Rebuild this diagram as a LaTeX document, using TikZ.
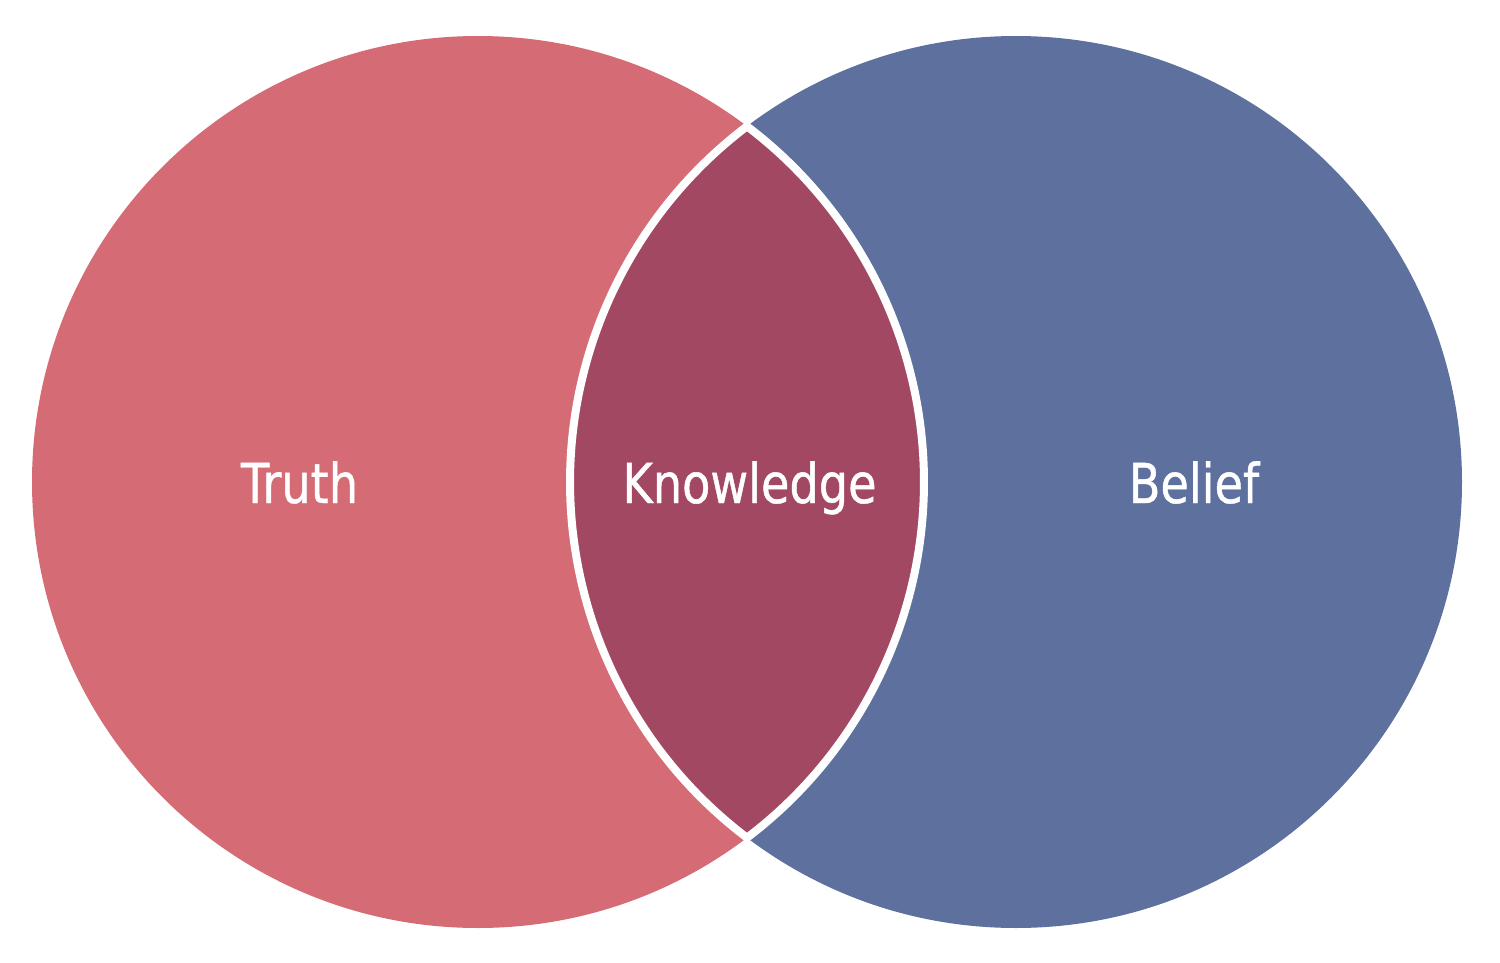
\documentclass[tikz,border=0pt]{standalone}
\usepackage{fontspec}
\newfontfamily\labelfont[FakeStretch=0.84,FakeBold=0.8]{DejaVu Sans}
\definecolor{truthc}{RGB}{213,107,116}
\definecolor{beliefc}{RGB}{93,112,158}
\definecolor{knowc}{RGB}{162,72,98}
\begin{document}
\begin{tikzpicture}[x=1pt,y=-1pt,
  lbl/.style={text=white,font=\labelfont\fontsize{55}{60}\selectfont,anchor=base,inner sep=0pt}]
\useasboundingbox (0,0) rectangle (1500,963);
\coordinate (cl) at (478,482);
\coordinate (cr) at (1016,482);
\coordinate (top) at (747,126.3);
\fill[truthc] (cl) circle[radius=446];
\fill[beliefc] (cr) circle[radius=446];
\filldraw[fill=knowc,draw=white,line width=8,line join=miter]
  (top) arc[start angle=232.9, end angle=127.1, radius=446]
        arc[start angle=52.9, end angle=-52.9, radius=446] -- cycle;
\node[lbl] (truth) at (299.5,503) {Truth};
\node[lbl] (know) at (749.5,503) {Knowledge};
\node[lbl] (belief) at (1194,503) {Belief};
\end{tikzpicture}
\end{document}
